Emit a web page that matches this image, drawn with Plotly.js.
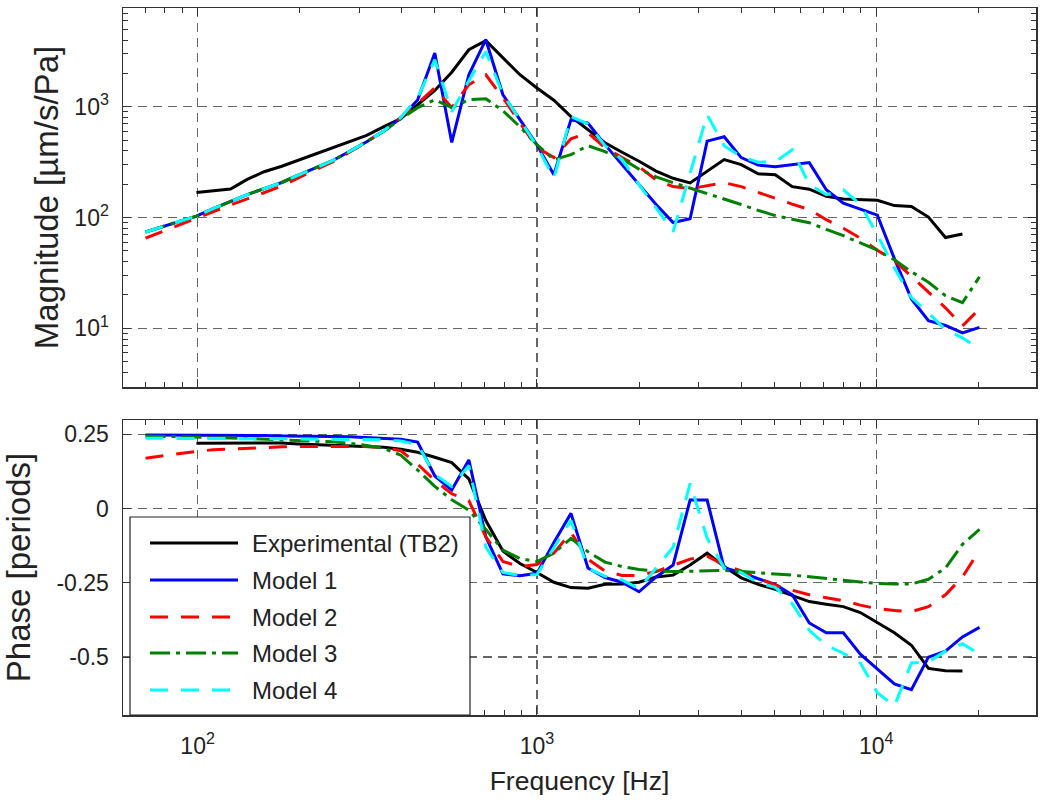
<!DOCTYPE html>
<html><head><meta charset="utf-8">
<script src="https://cdn.plot.ly/plotly-3.0.1.min.js"></script>
<style>html,body{margin:0;padding:0;background:#fff}#chart{width:1050px;height:807px}</style>
</head><body><div id="chart"></div>
<script>
// Frequency grid (Hz), 1/6-octave points
const freqModel = [70.2, 78.7, 88.4, 99.2, 111, 125, 140, 157, 177, 198, 223, 250, 281, 315, 354, 397, 445, 500, 561, 630, 707, 794, 891, 1000, 1122, 1260, 1414, 1587, 1782, 2000, 2245, 2520, 2828, 3175, 3564, 4000, 4490, 5040, 5657, 6350, 7127, 8000, 8980, 10079, 11314, 12699, 14254, 16000, 17959, 20159];
const freqExp = [99.2, 111, 125, 140, 157, 177, 198, 223, 250, 281, 315, 354, 397, 445, 500, 561, 630, 707, 794, 891, 1000, 1122, 1260, 1414, 1587, 1782, 2000, 2245, 2520, 2828, 3175, 3564, 4000, 4490, 5040, 5657, 6350, 7127, 8000, 8980, 10079, 11314, 12699, 14254, 16000, 17959];

const seriesNames = ['Experimental (TB2)', 'Model 1', 'Model 2', 'Model 3', 'Model 4'];

// Tick values and labels
const freqTicks = [100, 1000, 10000];
const freqTickText = ['10<sup>2</sup>', '10<sup>3</sup>', '10<sup>4</sup>'];
const magTicks = [10, 100, 1000];
const magTickText = ['10<sup>1</sup>', '10<sup>2</sup>', '10<sup>3</sup>'];
const phaseTicks = [-0.5, -0.25, 0, 0.25];
const phaseTickText = ['-0.5', '-0.25', '0', '0.25'];

// Magnitude [µm/s/Pa]
const magExp = [168, 175, 181, 221, 259, 290, 329, 372, 428, 489, 552, 661, 783, 1042, 1400, 2047, 3268, 3945, 2767, 1944, 1475, 1145, 813, 620, 473, 388, 322, 262, 226, 205, 259, 333, 300, 248, 243, 190, 180, 155, 147, 145, 143, 128, 126, 101, 66, 71];
const magM1 = [74, 82.6, 92, 103, 120, 140, 161, 182, 207, 241, 279, 326, 396, 483, 607, 790, 1150, 3054, 476, 1944, 4027, 1283, 764, 454, 243, 764, 710, 455, 300, 198, 131, 90, 97.5, 489, 536, 347, 297, 287, 300, 313, 178, 135, 119, 105, 42.5, 18.4, 11.7, 10.6, 9.1, 10.2];
const magM2 = [65, 74.5, 86, 99.6, 113, 130, 147, 168, 192, 228, 268, 318, 390, 480, 605, 803, 1064, 1484, 980, 1581, 1944, 1206, 717, 427, 347, 514, 582, 427, 347, 287, 219, 190, 182, 194, 206, 190, 168, 148, 132, 118, 95.5, 80, 65, 50.7, 40.7, 29.4, 21.4, 15.3, 10.5, 15];
const magM3 = [74, 82.6, 92, 103, 120, 140, 161, 182, 207, 241, 279, 326, 396, 483, 600, 779, 980, 1157, 980, 1157, 1181, 920, 659, 454, 332, 369, 445, 393, 340, 273, 233, 206, 184, 166, 148, 131, 116, 104, 96.5, 89.8, 78, 68.5, 59, 50.7, 41.6, 32.4, 26, 19.7, 17, 29.2];
const magM4 = [74, 82.6, 92, 103, 120, 140, 161, 182, 207, 241, 279, 326, 396, 483, 607, 800, 1200, 2655, 900, 1718, 3150, 1283, 764, 440, 227, 817, 700, 445, 333, 198, 122, 74.5, 251, 847, 444, 354, 316, 319, 409, 198, 161, 178, 131, 70, 35, 18.9, 13.8, 9.7, 8.2, 6.5];

// Phase [periods]
const phExp = [0.22, 0.22, 0.221, 0.222, 0.222, 0.221, 0.218, 0.216, 0.214, 0.212, 0.21, 0.207, 0.2, 0.19, 0.173, 0.155, 0.1, -0.04, -0.143, -0.185, -0.215, -0.248, -0.266, -0.268, -0.255, -0.254, -0.248, -0.23, -0.224, -0.19, -0.15, -0.195, -0.233, -0.255, -0.272, -0.292, -0.313, -0.322, -0.33, -0.35, -0.385, -0.418, -0.46, -0.538, -0.546, -0.547];
const phM1 = [0.248, 0.248, 0.248, 0.247, 0.247, 0.247, 0.246, 0.246, 0.245, 0.245, 0.244, 0.243, 0.242, 0.24, 0.238, 0.234, 0.224, 0.11, 0.063, 0.164, -0.095, -0.22, -0.226, -0.218, -0.114, -0.016, -0.2, -0.232, -0.248, -0.28, -0.23, -0.19, 0.029, 0.029, -0.2, -0.215, -0.236, -0.255, -0.29, -0.385, -0.418, -0.418, -0.49, -0.54, -0.59, -0.61, -0.5, -0.48, -0.432, -0.4];
const phM2 = [0.17, 0.178, 0.186, 0.193, 0.198, 0.201, 0.204, 0.206, 0.208, 0.209, 0.209, 0.209, 0.209, 0.209, 0.206, 0.195, 0.15, 0.095, 0.05, 0.027, -0.095, -0.178, -0.195, -0.188, -0.15, -0.08, -0.17, -0.21, -0.225, -0.225, -0.212, -0.19, -0.17, -0.16, -0.19, -0.21, -0.235, -0.258, -0.275, -0.29, -0.3, -0.31, -0.325, -0.337, -0.343, -0.347, -0.33, -0.29, -0.23, -0.14];
const phM3 = [0.245, 0.244, 0.243, 0.241, 0.24, 0.238, 0.236, 0.234, 0.232, 0.23, 0.228, 0.225, 0.22, 0.213, 0.203, 0.18, 0.13, 0.075, 0.03, -0.005, -0.07, -0.14, -0.168, -0.178, -0.15, -0.1, -0.145, -0.18, -0.195, -0.205, -0.21, -0.212, -0.211, -0.21, -0.208, -0.212, -0.217, -0.22, -0.224, -0.229, -0.235, -0.241, -0.247, -0.252, -0.254, -0.254, -0.238, -0.2, -0.12, -0.07];
const phM4 = [0.237, 0.237, 0.237, 0.237, 0.236, 0.236, 0.236, 0.235, 0.235, 0.235, 0.234, 0.234, 0.233, 0.233, 0.232, 0.228, 0.215, 0.115, 0.075, 0.145, -0.13, -0.215, -0.225, -0.222, -0.13, -0.04, -0.2, -0.228, -0.24, -0.27, -0.2, -0.13, 0.085, -0.1, -0.2, -0.215, -0.25, -0.265, -0.32, -0.41, -0.46, -0.487, -0.52, -0.62, -0.665, -0.52, -0.516, -0.48, -0.455, -0.49];

const styles = [
  {color: '#000000', dash: 'solid'},
  {color: '#0000ff', dash: 'solid'},
  {color: '#ff0000', dash: '18px,13px'},
  {color: '#008000', dash: '20px,6px,4px,6px'},
  {color: '#00ffff', dash: '18px,13px'}
];
const mags = [magExp, magM1, magM2, magM3, magM4];
const phs = [phExp, phM1, phM2, phM3, phM4];
const freqs = [freqExp, freqModel, freqModel, freqModel, freqModel];

const traces = [];
for (let i = 0; i < 5; i++) {
  traces.push({x: freqs[i], y: mags[i], xaxis: 'x2', yaxis: 'y2', type: 'scatter', mode: 'lines',
    name: seriesNames[i], showlegend: false,
    line: {color: styles[i].color, dash: styles[i].dash, width: 3}});
}
for (let i = 0; i < 5; i++) {
  traces.push({x: freqs[i], y: phs[i], xaxis: 'x', yaxis: 'y', type: 'scatter', mode: 'lines',
    name: seriesNames[i], showlegend: false,
    line: {color: styles[i].color, dash: styles[i].dash, width: 3}});
}

const L = 123, R = 1036, T = 8, B = 715;
const px = x => (x - L) / (R - L);
const py = y => (B - y) / (B - T);

const font = {family: 'Liberation Sans, Arial, Helvetica, sans-serif', color: '#222'};
const axLine = {showline: true, linecolor: '#333', linewidth: 1.5, mirror: 'ticks',
  ticks: 'inside', ticklen: 8, tickcolor: '#333', zeroline: false,
  showgrid: true, gridcolor: '#666666', gridwidth: 1.2, griddash: '9px,6px'};
const minorLog = {ticks: 'inside', ticklen: 5, tickcolor: '#333', dtick: 'D1', showgrid: false};
const xBase = Object.assign({}, axLine, {type: 'log', range: [1.78, 4.471],
  tickmode: 'array', tickvals: freqTicks, ticktext: freqTickText, minor: minorLog});

const shapes = [];
const annotations = [];
shapes.push({type: 'rect', xref: 'paper', yref: 'paper', x0: px(130), x1: px(470), y0: py(715), y1: py(517),
  line: {color: '#222', width: 1.2}, fillcolor: '#ffffff', layer: 'above'});
const rowY = [543, 580, 617, 653, 690];
for (let i = 0; i < 5; i++) {
  shapes.push({type: 'line', xref: 'paper', yref: 'paper', x0: px(150), x1: px(238), y0: py(rowY[i]), y1: py(rowY[i]),
    line: {color: styles[i].color, dash: styles[i].dash, width: 3}, layer: 'above'});
  annotations.push({xref: 'paper', yref: 'paper', x: px(250), y: py(rowY[i]), xanchor: 'left', yanchor: 'middle',
    text: seriesNames[i], showarrow: false, font: Object.assign({}, font, {size: 24})});
}

const layout = {
  width: 1050, height: 807,
  margin: {l: L, r: 1050 - R, t: T, b: 807 - B},
  paper_bgcolor: '#ffffff', plot_bgcolor: '#ffffff',
  font: font,
  showlegend: false,
  xaxis: Object.assign({}, xBase, {anchor: 'y', domain: [0, 1], tickfont: {size: 23}, ticklabelstandoff: 10,
    title: {text: 'Frequency [Hz]', font: {size: 26.5}, standoff: 13}}),
  xaxis2: Object.assign({}, xBase, {anchor: 'y2', domain: [0, 1], matches: 'x', showticklabels: false}),
  yaxis: Object.assign({}, axLine, {anchor: 'x', domain: [0, py(420)], range: [-0.695, 0.2985],
    tickmode: 'array', tickvals: phaseTicks, ticktext: phaseTickText, tickfont: {size: 23}, ticklabelstandoff: 8,
    title: {text: 'Phase [periods]', font: {size: 33}, standoff: 19}}),
  yaxis2: Object.assign({}, axLine, {anchor: 'x2', domain: [py(387), 1], type: 'log', range: [0.47, 3.891],
    tickmode: 'array', tickvals: magTicks, ticktext: magTickText, tickfont: {size: 23}, ticklabelstandoff: 8,
    minor: minorLog,
    title: {text: 'Magnitude [µm/s/Pa]', font: {size: 33}, standoff: 6}}),
  shapes: shapes,
  annotations: annotations
};

Plotly.newPlot('chart', traces, layout, {displayModeBar: false, staticPlot: true});
</script>
</body></html>
